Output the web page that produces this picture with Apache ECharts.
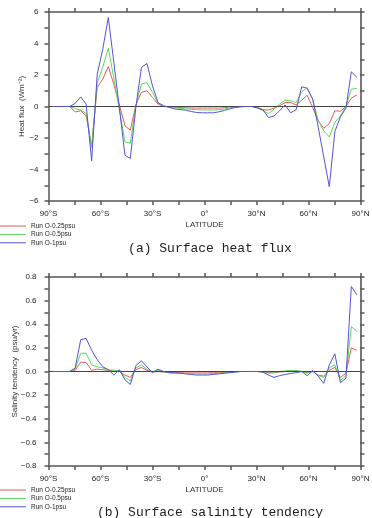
<!DOCTYPE html>
<html>
<head>
<meta charset="utf-8">
<script src="https://cdn.jsdelivr.net/npm/echarts@6/dist/echarts.min.js"></script>
<style>
  html, body { margin: 0; padding: 0; background: #fff; }
  #container { width: 372px; height: 518px; }
</style>
</head>
<body>
<div id="container"></div>
<script>
(function () {

    // latitude of the model grid points
    const lat = [-87.4, -84.2, -81.0, -77.8, -74.6, -71.4, -68.3, -65.1, -61.9, -58.7,
        -55.5, -52.3, -49.1, -45.9, -42.8, -39.6, -36.4, -33.2, -30.0, -26.8,
        -23.6, -20.4, -17.3, -14.1, -10.9, -7.7, -4.5, -1.3, 1.9, 5.1,
        8.2, 11.4, 14.6, 17.8, 21.0, 24.2, 27.4, 30.6, 33.7, 36.9,
        40.1, 43.3, 46.5, 49.7, 52.9, 56.1, 59.2, 62.4, 65.6, 68.8,
        72.0, 75.2, 78.4, 81.6, 84.7, 87.9];

    const runNames = ['Run O-0.25psu', 'Run O-0.5psu', 'Run O-1psu'];

    // (a) surface heat flux, W m-2
    const heatRun025 = [0, 0, 0, 0, -0.34, -0.27, -0.6, -2.5, 1.2, 1.74,
        2.54, 1.4, 0.1, -1.23, -1.5, 0.1, 0.9, 1.0, 0.57, 0.15,
        0, -0.02, -0.05, -0.07, -0.08, -0.1, -0.1, -0.1, -0.1, -0.1,
        -0.1, -0.08, -0.03, 0, 0, 0, 0, -0.05, -0.2, -0.23,
        -0.1, 0.05, 0.25, 0.25, 0.1, 0.4, 0.72, -0.06, -0.9, -1.38,
        -1.08, -0.27, -0.3, 0, 0.53, 0.74];
    const heatRun05 = [0, 0, 0, 0, -0.13, -0.23, -0.44, -2.6, 1.5, 2.5,
        3.7, 1.8, -0.2, -2.24, -2.33, 0.05, 1.42, 1.52, 0.9, 0.2,
        0, -0.03, -0.08, -0.12, -0.15, -0.18, -0.2, -0.22, -0.22, -0.23,
        -0.2, -0.15, -0.08, -0.03, 0, 0, 0, -0.08, -0.28, -0.45,
        -0.17, 0.15, 0.4, 0.36, 0.25, 0.93, 1.2, 0.47, -0.9, -1.55,
        -1.93, -1.0, -0.6, 0, 1.1, 1.15];
    const heatRun1 = [0, 0, 0, 0, 0.2, 0.61, 0.15, -3.45, 2.05, 3.64,
        5.65, 2.8, -0.1, -3.1, -3.3, -0.05, 2.48, 2.73, 1.3, 0.25,
        0.05, -0.06, -0.15, -0.2, -0.23, -0.32, -0.38, -0.4, -0.4, -0.4,
        -0.34, -0.25, -0.15, -0.06, -0.02, 0, 0, -0.1, -0.2, -0.7,
        -0.6, -0.27, 0.1, -0.4, -0.2, 1.25, 1.16, 0.47, -1.3, -3.2,
        -5.1, -1.6, -0.65, -0.1, 2.2, 1.85];

    // (b) surface salinity tendency, psu/yr
    const saltRun025 = [0, 0, 0, 0, 0.01, 0.08, 0.076, 0.01, 0.02, 0.015,
        0.01, 0.005, 0, -0.03, -0.05, 0.015, 0.035, 0.01, -0.005, 0,
        -0.005, -0.01, -0.01, -0.01, -0.012, -0.012, -0.012, -0.012, -0.012, -0.01,
        -0.01, -0.008, -0.005, 0, 0, 0, 0, 0, -0.005, -0.01,
        -0.01, -0.005, 0, 0.005, 0.005, 0, -0.01, 0, -0.03, -0.04,
        0.01, 0.035, -0.05, -0.015, 0.2, 0.18];
    const saltRun05 = [0, 0, 0, 0, 0.02, 0.155, 0.155, 0.056, 0.04, 0.03,
        0.015, 0.01, 0.005, -0.05, -0.08, 0.03, 0.056, 0.02, 0, 0.01,
        -0.005, -0.01, -0.015, -0.015, -0.018, -0.02, -0.02, -0.02, -0.02, -0.018,
        -0.015, -0.012, -0.008, -0.004, 0, 0, 0, 0, -0.005, -0.015,
        -0.01, 0, 0.005, 0.01, 0.008, 0, -0.015, 0.005, -0.035, -0.05,
        0.03, 0.056, -0.076, -0.036, 0.38, 0.34];
    const saltRun1 = [0, 0, 0, 0, 0.03, 0.27, 0.28, 0.18, 0.1, 0.04,
        0.015, -0.03, 0.015, -0.07, -0.11, 0.05, 0.09, 0.04, -0.01, 0.02,
        0, -0.01, -0.01, -0.015, -0.02, -0.025, -0.03, -0.03, -0.03, -0.025,
        -0.02, -0.015, -0.01, -0.005, 0, 0, 0, 0, -0.005, -0.03,
        -0.05, -0.035, -0.025, -0.017, -0.01, 0, -0.036, 0.008, -0.04, -0.1,
        0.056, 0.15, -0.095, -0.056, 0.72, 0.65];

    const colors = ['#e35a5a', '#5bd95b', '#5353d6'];
    const axisColor = '#555';
    const labelFont = { fontFamily: 'Liberation Sans', fontSize: 8, color: '#222' };
    const nameFont = { fontFamily: 'Liberation Sans', fontSize: 8, color: '#333' };

    const minus = s => String(s).replace('-', '\u2212');
    const latLabel = v => {
        if (v % 30 !== 0) return '';
        if (v === 0) return '0°';
        return v < 0 ? (-v) + '°S' : v + '°N';
    };

    const xAxes = (gridIndex) => [
        {
            type: 'value', gridIndex: gridIndex, position: 'bottom',
            min: -90, max: 90, interval: 15,
            name: 'LATITUDE', nameLocation: 'middle', nameGap: 20,
            nameMoveOverlap: false,
            nameTextStyle: nameFont,
            axisLine: { onZero: false, lineStyle: { color: axisColor, width: 1.5 } },
            axisTick: { length: 4, lineStyle: { color: axisColor, width: 1.5 } },
            axisLabel: Object.assign({ margin: 9, formatter: latLabel, showMinLabel: true, showMaxLabel: true, hideOverlap: false }, labelFont),
            splitLine: { show: false }
        },
        {
            type: 'value', gridIndex: gridIndex, position: 'top',
            min: -90, max: 90, interval: 15,
            axisLine: { onZero: false, lineStyle: { color: axisColor, width: 1.5 } },
            axisTick: { length: 4, lineStyle: { color: axisColor, width: 1.5 } },
            axisLabel: { show: false },
            splitLine: { show: false }
        }
    ];

    const yAxes = (gridIndex, min, max, step, name, nameGap, fmt, margin) => [
        {
            type: 'value', gridIndex: gridIndex, position: 'left',
            min: min, max: max, interval: step,
            name: name, nameLocation: 'middle', nameGap: nameGap,
            nameMoveOverlap: false,
            nameTextStyle: nameFont,
            axisLine: { show: true, onZero: false, lineStyle: { color: axisColor, width: 1.5 } },
            axisTick: { show: true, length: 4, lineStyle: { color: axisColor, width: 1.5 } },
            axisLabel: Object.assign({ margin: margin, formatter: fmt, showMinLabel: true, showMaxLabel: true, hideOverlap: false }, labelFont),
            splitLine: { show: false }
        },
        {
            type: 'value', gridIndex: gridIndex, position: 'right',
            min: min, max: max, interval: step,
            axisLine: { show: true, onZero: false, lineStyle: { color: '#777', width: 2 } },
            axisTick: { show: true, length: 4, lineStyle: { color: axisColor, width: 1.5 } },
            axisLabel: { show: false },
            splitLine: { show: false }
        }
    ];

    const makeSeries = (gridNo, runs) => runs.map((vals, i) => {
        const s = {
            name: runNames[i],
            type: 'line',
            xAxisIndex: gridNo * 2,
            yAxisIndex: gridNo * 2,
            data: lat.map((x, k) => [x, vals[k]]),
            symbol: 'none',
            lineStyle: { color: colors[i], width: 1 },
            itemStyle: { color: colors[i] },
            animation: false,
            z: 3 + i
        };
        if (i === 0) {
            s.markLine = {
                silent: true,
                symbol: ['none', 'none'],
                label: { show: false },
                lineStyle: { color: '#444', width: 1, type: 'solid' },
                data: [{ yAxis: 0 }]
            };
        }
        return s;
    });

    // thin horizontal bar as legend key, padded so it is not stretched
    const lineIcon = 'path://M0,0L0,0M0,3.5L26,3.5L26,4.5L0,4.5ZM26,8L26,8';

    const legend = (top) => ({
        data: runNames,
        orient: 'vertical',
        left: 0,
        top: top,
        icon: lineIcon,
        itemWidth: 26,
        itemHeight: 8,
        itemGap: 0.4,
        padding: 0,
        selectedMode: false,
        textStyle: { fontFamily: 'Liberation Sans', fontSize: 6.5, color: '#222' }
    });

    const heatFmt = v => (v % 2 === 0 ? minus(v) : '');
    const saltFmt = v => {
        const t = Math.round(v * 10);
        return t % 2 === 0 ? minus((t / 10).toFixed(1)) : '';
    };

    var dom = document.getElementById('container');
    var myChart = echarts.init(dom, null, { renderer: 'canvas' });

    myChart.setOption({
        animation: false,
        title: [
            {
                text: '(a) Surface heat flux', left: 205, top: 237, textAlign: 'center',
                textStyle: { fontFamily: 'Liberation Mono', fontSize: 13, fontWeight: 'normal', color: '#222' }
            },
            {
                text: '(b) Surface salinity tendency', left: 205, top: 501, textAlign: 'center',
                textStyle: { fontFamily: 'Liberation Mono', fontSize: 13, fontWeight: 'normal', color: '#222' }
            }
        ],
        legend: [legend(222), legend(486)],
        grid: [
            { left: 48.5, right: 11.5, top: 12, height: 189, outerBoundsMode: 'none', containLabel: false },
            { left: 48.5, right: 11.5, top: 277, height: 189, outerBoundsMode: 'none', containLabel: false }
        ],
        xAxis: xAxes(0).concat(xAxes(1)),
        yAxis: yAxes(0, -6, 6, 1, 'Heat flux  (Wm\u207B\u00B2)', 23, heatFmt, 10)
            .concat(yAxes(1, -0.8, 0.8, 0.1, 'Salinity tendency  (psu/yr)', 30, saltFmt, 12)),
        series: makeSeries(0, [heatRun025, heatRun05, heatRun1])
            .concat(makeSeries(1, [saltRun025, saltRun05, saltRun1]))
    });

})();
</script>
</body>
</html>
